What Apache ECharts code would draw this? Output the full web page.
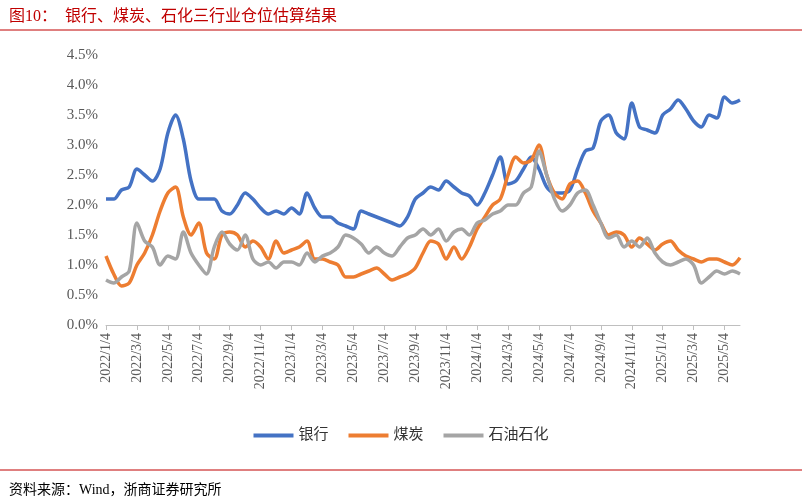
<!DOCTYPE html>
<html>
<head>
<meta charset="utf-8">
<script src="https://cdn.jsdelivr.net/npm/echarts@6/dist/echarts.min.js"></script>
<style>
  body { margin: 0; background: #fff; }
  #chart { width: 802px; height: 500px; }
</style>
</head>
<body>
<div id="chart"></div>
<script>
// 半月频日期：每月4日、19日
var dates = [];
for (var y = 2022; y <= 2025; y++) {
  for (var m = 1; m <= 12; m++) {
    if (y === 2025 && m > 5) break;
    dates.push(y + '/' + m + '/4');
    dates.push(y + '/' + m + '/19');
  }
}
dates.push('2025/6/4');

var bank = [2.1,2.1,2.25,2.3,2.6,2.5,2.4,2.6,3.2,3.5,3.1,2.4,2.1,2.1,2.1,1.9,1.85,2.0,2.2,2.1,
  1.95,1.85,1.9,1.85,1.95,1.85,2.2,1.95,1.8,1.8,1.7,1.65,1.6,1.9,1.85,1.8,1.75,1.7,1.65,1.8,
  2.1,2.2,2.3,2.25,2.4,2.3,2.2,2.15,2.0,2.2,2.5,2.8,2.35,2.4,2.6,2.8,2.6,2.3,2.2,2.2,
  2.25,2.6,2.9,2.95,3.4,3.5,3.2,3.1,3.7,3.3,3.25,3.2,3.5,3.6,3.75,3.6,3.4,3.3,3.5,3.45,
  3.8,3.7,3.75];
var coal = [1.15,0.85,0.65,0.7,1.0,1.2,1.5,1.9,2.2,2.3,1.8,1.5,1.7,1.2,1.1,1.5,1.55,1.5,1.3,1.4,
  1.3,1.1,1.4,1.2,1.25,1.3,1.4,1.1,1.1,1.05,1.0,0.8,0.8,0.85,0.9,0.95,0.85,0.75,0.8,0.85,
  0.95,1.2,1.4,1.35,1.1,1.3,1.1,1.3,1.6,1.8,2.0,2.1,2.5,2.8,2.7,2.75,3.0,2.5,2.2,2.1,
  2.35,2.4,2.2,1.9,1.7,1.5,1.55,1.5,1.3,1.45,1.35,1.25,1.35,1.4,1.25,1.15,1.1,1.05,1.1,1.1,
  1.05,1.0,1.12];
var petro = [0.75,0.7,0.8,0.9,1.7,1.4,1.3,1.0,1.15,1.1,1.55,1.2,1.0,0.85,1.3,1.55,1.35,1.25,1.5,1.1,
  1.0,1.05,0.95,1.05,1.05,1.0,1.2,1.05,1.15,1.2,1.3,1.5,1.45,1.35,1.2,1.3,1.2,1.15,1.3,1.45,
  1.5,1.6,1.5,1.6,1.4,1.55,1.6,1.5,1.7,1.75,1.85,1.9,2.0,2.0,2.2,2.3,2.9,2.5,2.1,1.9,
  2.0,2.2,2.25,2.0,1.7,1.45,1.5,1.3,1.4,1.3,1.45,1.2,1.05,1.0,1.05,1.1,1.0,0.7,0.8,0.9,
  0.85,0.9,0.85];

var myChart = echarts.init(document.getElementById('chart'));
var font = '"Liberation Serif", "Noto Sans CJK SC", serif';

function line(name, data, color) {
  return { name: name, type: 'line', data: data, smooth: 0.3, symbol: 'none',
    lineStyle: { width: 3.5, color: color }, itemStyle: { color: color } };
}

var option = {
  animation: false,
  textStyle: { fontFamily: font },
  title: [
    { text: '图10：  银行、煤炭、石化三行业仓位估算结果', left: 4, top: 4,
      textStyle: { color: '#c00000', fontSize: 16, fontWeight: 'normal', fontFamily: font } },
    { text: '资料来源：Wind，浙商证券研究所', left: 4, top: 478,
      textStyle: { color: '#000', fontSize: 14, fontWeight: 'normal', fontFamily: font } }
  ],
  graphic: [
    { type: 'line', shape: { x1: 0, y1: 30, x2: 802, y2: 30 }, style: { stroke: '#c00000', lineWidth: 1 } },
    { type: 'line', shape: { x1: 0, y1: 470, x2: 802, y2: 470 }, style: { stroke: '#c00000', lineWidth: 1 } }
  ],
  legend: {
    bottom: 52, itemWidth: 40, itemHeight: 4, itemGap: 20,
    icon: 'rect',
    textStyle: { fontSize: 15, color: '#333', fontFamily: font },
    data: ['银行', '煤炭', '石油石化']
  },
  grid: { left: 106, right: 62, top: 55, bottom: 175 },
  xAxis: {
    type: 'category', data: dates, boundaryGap: false,
    axisLine: { lineStyle: { color: '#bfbfbf' } },
    axisTick: { show: true, interval: 3, lineStyle: { color: '#bfbfbf' } },
    axisLabel: { interval: 3, rotate: 90, color: '#595959', fontSize: 14, fontFamily: font }
  },
  yAxis: {
    type: 'value', min: 0, max: 4.5, interval: 0.5,
    axisLine: { show: false }, axisTick: { show: false }, splitLine: { show: false },
    axisLabel: { color: '#595959', fontSize: 15, fontFamily: font,
      formatter: function (v) { return v.toFixed(1) + '%'; } }
  },
  series: [
    line('银行', bank, '#4472c4'),
    line('煤炭', coal, '#ed7d31'),
    line('石油石化', petro, '#a5a5a5')
  ]
};

myChart.setOption(option);
</script>
</body>
</html>
